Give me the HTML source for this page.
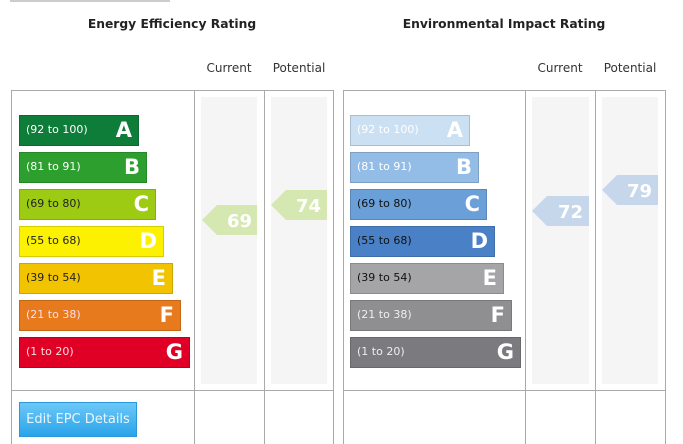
<!DOCTYPE html>
<html><head><meta charset="utf-8"><style>
body{margin:0;width:683px;height:444px;overflow:hidden;background:#fff;font-family:"DejaVu Sans","Liberation Sans",sans-serif;position:relative}
div{position:absolute;box-sizing:border-box}
.t{font-weight:bold;font-size:12.3px;color:#222;text-align:center;top:17px}
.h{font-size:12px;color:#333;top:61px;text-align:center;width:70px}
.vl{width:1px;background:#aaa}
.hl{height:1px;background:#aaa}
.col{background:#f5f5f5;top:97px;height:287px}
.bar{height:31px;border:1px solid rgba(0,0,0,0.15)}
.bar span{position:absolute;left:6px;top:7px;font-size:11px}
.bar b{position:absolute;right:6px;top:2px;font-size:21px;color:#fff;font-family:"DejaVu Sans",sans-serif}
svg{position:absolute}
</style></head><body>
<div style="left:10px;top:0;width:160px;height:2px;background:#ccc"></div>
<div class="t" style="left:11px;width:322px">Energy Efficiency Rating</div>
<div class="t" style="left:343px;width:322px">Environmental Impact Rating</div>
<div class="h" style="left:194px">Current</div>
<div class="h" style="left:264px">Potential</div>
<div class="h" style="left:525px">Current</div>
<div class="h" style="left:595px">Potential</div>

<div class="hl" style="left:11px;top:90px;width:323px"></div>
<div class="hl" style="left:11px;top:390px;width:323px"></div>
<div class="vl" style="left:11px;top:90px;height:354px"></div>
<div class="vl" style="left:194px;top:90px;height:354px"></div>
<div class="vl" style="left:264px;top:90px;height:354px"></div>
<div class="vl" style="left:333px;top:90px;height:354px"></div>

<div class="hl" style="left:343px;top:90px;width:323px"></div>
<div class="hl" style="left:343px;top:390px;width:323px"></div>
<div class="vl" style="left:343px;top:90px;height:354px"></div>
<div class="vl" style="left:525px;top:90px;height:354px"></div>
<div class="vl" style="left:595px;top:90px;height:354px"></div>
<div class="vl" style="left:665px;top:90px;height:354px"></div>

<div class="col" style="left:201px;width:56px"></div>
<div class="col" style="left:271px;width:56px"></div>
<div class="col" style="left:532px;width:57px"></div>
<div class="col" style="left:602px;width:56px"></div>

<div class="bar" style="left:19px;top:115px;width:120px;background:#0f7d3a;color:#fff"><span>(92 to 100)</span><b>A</b></div>
<div class="bar" style="left:19px;top:152px;width:128px;background:#2c9f2e;color:#fff"><span>(81 to 91)</span><b>B</b></div>
<div class="bar" style="left:19px;top:189px;width:137px;background:#9dcb13;color:#222"><span>(69 to 80)</span><b>C</b></div>
<div class="bar" style="left:19px;top:226px;width:145px;background:#fbf100;color:#222"><span>(55 to 68)</span><b>D</b></div>
<div class="bar" style="left:19px;top:263px;width:154px;background:#f2c300;color:#222"><span>(39 to 54)</span><b>E</b></div>
<div class="bar" style="left:19px;top:300px;width:162px;background:#e77a1c;color:#fde"><span>(21 to 38)</span><b>F</b></div>
<div class="bar" style="left:19px;top:337px;width:171px;background:#e00026;color:#fdd"><span>(1 to 20)</span><b>G</b></div>

<div class="bar" style="left:350px;top:115px;width:120px;background:#cbe0f3;color:#fff"><span>(92 to 100)</span><b>A</b></div>
<div class="bar" style="left:350px;top:152px;width:129px;background:#93bde6;color:#fff"><span>(81 to 91)</span><b>B</b></div>
<div class="bar" style="left:350px;top:189px;width:137px;background:#6b9fd8;color:#111"><span>(69 to 80)</span><b>C</b></div>
<div class="bar" style="left:350px;top:226px;width:145px;background:#4a80c6;color:#111"><span>(55 to 68)</span><b>D</b></div>
<div class="bar" style="left:350px;top:263px;width:154px;background:#a5a5a8;color:#111"><span>(39 to 54)</span><b>E</b></div>
<div class="bar" style="left:350px;top:300px;width:162px;background:#8f8f92;color:#eee"><span>(21 to 38)</span><b>F</b></div>
<div class="bar" style="left:350px;top:337px;width:171px;background:#7b7b7f;color:#eee"><span>(1 to 20)</span><b>G</b></div>

<svg width="683" height="444" style="left:0;top:0">
<g font-family="DejaVu Sans,sans-serif" font-weight="bold" font-size="18" fill="#fff" text-anchor="end">
<polygon points="202,220 217,205 257,205 257,235 217,235" fill="#d6e8b2"/><text x="252" y="227">69</text>
<polygon points="271,205 286,190 327,190 327,220 286,220" fill="#d6e8b2"/><text x="321" y="212">74</text>
<polygon points="532,211 547,196 589,196 589,226 547,226" fill="#c6d7ec"/><text x="583" y="218">72</text>
<polygon points="602,190 617,175 658,175 658,205 617,205" fill="#c6d7ec"/><text x="652" y="197">79</text>
</g></svg>

<div style="left:19px;top:402px;width:118px;height:35px;border:1px solid #2a98d8;background:linear-gradient(#6cc8f8,#2aa3ea);color:#e8f6ff;font-size:13px;text-align:center;line-height:33px">Edit EPC Details</div>
</body></html>
